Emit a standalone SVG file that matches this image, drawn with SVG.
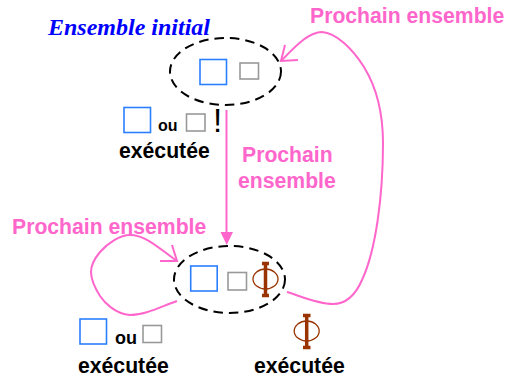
<svg xmlns="http://www.w3.org/2000/svg" width="508" height="378" viewBox="0 0 508 378">
<style>
.pk{font-family:"Liberation Sans",Arial,sans-serif;font-weight:bold;fill:#ff66cc;font-size:21.200px}
.bk{font-family:"Liberation Sans",Arial,sans-serif;font-weight:bold;fill:#000;font-size:21.200px}
.ou{font-family:"Liberation Sans",Arial,sans-serif;font-weight:bold;fill:#000;font-size:16px}
.ell{fill:none;stroke:#000;stroke-width:2;stroke-dasharray:9.500 6}
.b{fill:#fff;stroke:#2b7fff;stroke-width:1.6}
.g{fill:#fff;stroke:#999;stroke-width:1.6}
.con{fill:none;stroke:#ff66cc;stroke-width:2}
.phi{fill:none;stroke:#993300;stroke-width:1.3}
.bar{fill:none;stroke:#993300;stroke-width:3.500}
</style>
<g id="connectors">
<path class="con" d="M226.500 110V236"/>
<path d="M220.500 232H233L226.700 245Z" fill="#ff66cc"/>
<path class="con" d="M287 292C300 296 318 304 333 304C345 304 355 296 362 280C376 250 383 195 383 143C383 110 375 85 364 67C352 48 336 33 322 32C308 32 294 48 281 61"/>
<path class="con" d="M285 45L281 61L298 60"/>
<path class="con" d="M177 301C160 307 145 315 130 315C115 314 104 302 100 296C95 288 91 280 91 272C91 265 95 258 100 252C108 243 120 235 130 235C147 235 162 251 177 261"/>
<path class="con" d="M172 245L177 261L160 261"/>
</g>
<g id="node-initial">
<ellipse class="ell" cx="225.500" cy="71.500" rx="55.500" ry="33.500"/>
<rect class="b" x="200" y="59.500" width="26.500" height="25"/>
<rect class="g" x="240" y="63" width="18.500" height="16"/>
</g>
<g id="node-next">
<ellipse class="ell" cx="229.500" cy="279.500" rx="55.500" ry="33.500"/>
<rect class="b" x="190.700" y="266" width="26.500" height="25"/>
<rect class="g" x="228" y="272.500" width="18.500" height="17.500"/>
<ellipse class="phi" cx="265.500" cy="279" rx="12.500" ry="10"/>
<path class="bar" d="M265.500 262V297M262 263.500H269M262 295.500H269"/>
</g>
<g id="labels">
<text x="48" y="35" font-family="Liberation Serif,serif" font-weight="bold" font-style="italic" font-size="24" fill="#0000ff">Ensemble initial</text>
<text class="pk" x="310" y="23">Prochain ensemble</text>
<text class="pk" x="242" y="162">Prochain</text>
<text class="pk" x="238" y="188">ensemble</text>
<text class="pk" x="12" y="234">Prochain ensemble</text>
<rect class="b" x="124" y="107.500" width="26.500" height="25"/>
<text class="ou" x="158" y="131">ou</text>
<rect class="g" x="186.500" y="114" width="18.500" height="17"/>
<text x="217.500" y="132" text-anchor="middle" font-family="Liberation Sans,sans-serif" font-size="33">!</text>
<text class="bk" x="119" y="158">exécutée</text>
<rect class="b" x="80" y="319" width="26.500" height="25"/>
<text class="ou" x="115" y="344" style="font-size:18px">ou</text>
<rect class="g" x="143" y="325.500" width="18.500" height="17"/>
<text class="bk" x="78" y="373">exécutée</text>
<ellipse class="phi" cx="306.700" cy="331" rx="12.500" ry="10"/>
<path class="bar" d="M306.700 314V349M303 315.500H310.500M303 347.500H310.500"/>
<text class="bk" x="254" y="373">exécutée</text>
</g>
</svg>
